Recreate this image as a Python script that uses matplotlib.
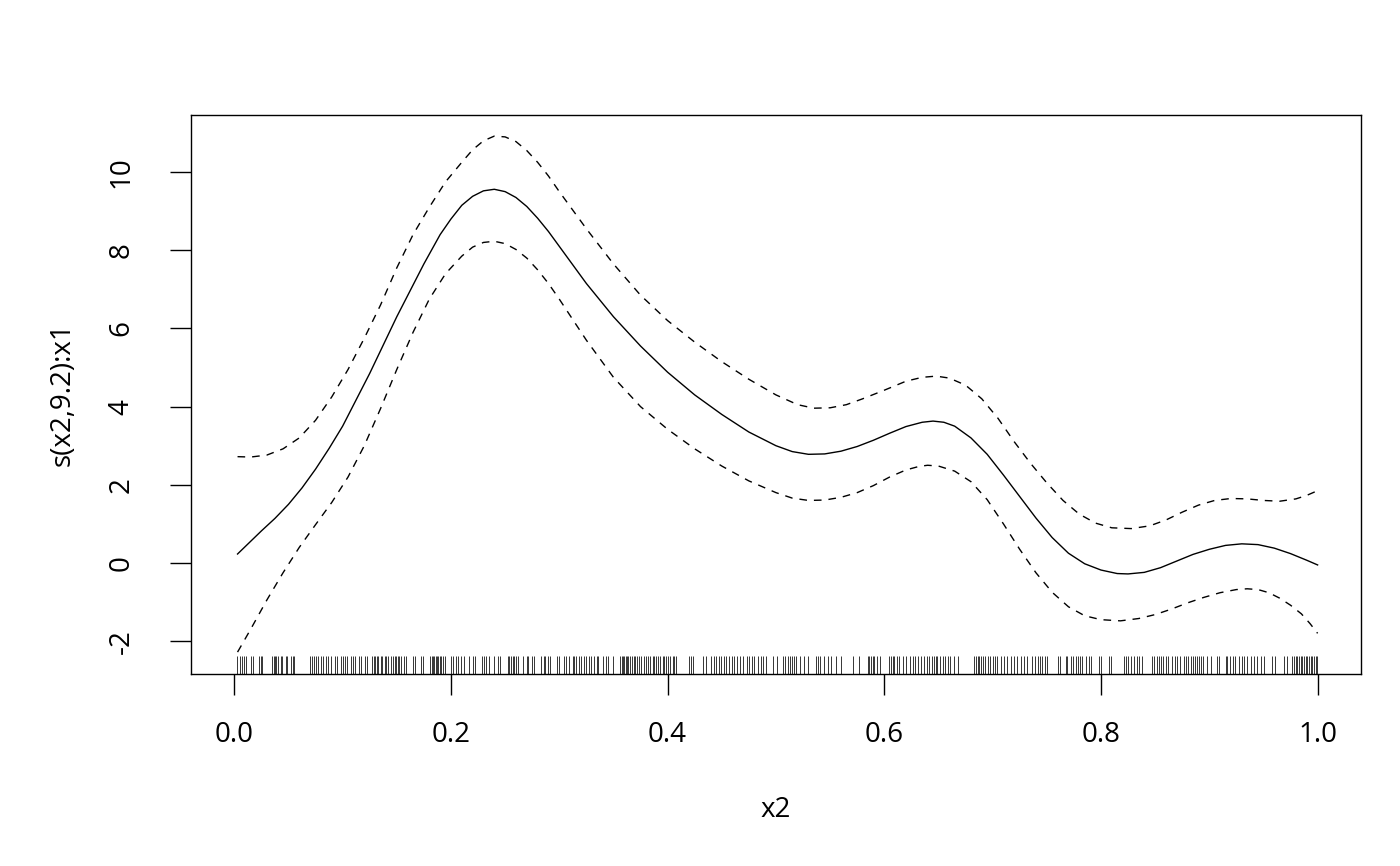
#!/usr/bin/env python

"""
Plot a smooth term s(x2,9.2):x1 with its confidence band and a rug of x2
"""

import matplotlib
matplotlib.use('Agg')
import matplotlib.pyplot as plt

# Fitted smooth
fit_x = [0.003, 0.025, 0.0375, 0.05, 0.0625, 0.075, 0.0875, 0.1, 0.125, 0.15,
         0.175, 0.19, 0.2, 0.21, 0.22, 0.23, 0.24, 0.25, 0.26, 0.27,
         0.28, 0.29, 0.3, 0.325, 0.35, 0.375, 0.4, 0.425, 0.45, 0.475,
         0.5, 0.515, 0.53, 0.545, 0.56, 0.575, 0.59, 0.605, 0.62, 0.635,
         0.645, 0.655, 0.665, 0.68, 0.695, 0.71, 0.725, 0.74, 0.755, 0.77,
         0.785, 0.8, 0.815, 0.825, 0.84, 0.855, 0.87, 0.885, 0.9, 0.915,
         0.93, 0.945, 0.96, 0.975, 0.99, 1.0]
fit_y = [0.23, 0.82, 1.14, 1.5, 1.92, 2.4, 2.93, 3.5, 4.85, 6.3,
         7.65, 8.4, 8.8, 9.15, 9.38, 9.52, 9.56, 9.5, 9.35, 9.12,
         8.82, 8.48, 8.1, 7.15, 6.3, 5.55, 4.88, 4.3, 3.8, 3.35,
         3.0, 2.85, 2.78, 2.79, 2.86, 2.98, 3.14, 3.32, 3.49, 3.6,
         3.63, 3.6, 3.5, 3.2, 2.78, 2.25, 1.7, 1.15, 0.65, 0.25,
         -0.02, -0.18, -0.27, -0.28, -0.24, -0.12, 0.05, 0.22, 0.35, 0.45,
         0.49, 0.47, 0.38, 0.24, 0.07, -0.05]

# Upper band
upper_x = [0.003, 0.015, 0.03, 0.045, 0.06, 0.075, 0.09, 0.105, 0.12, 0.135,
           0.15, 0.165, 0.18, 0.195, 0.21, 0.22, 0.23, 0.24, 0.25, 0.26,
           0.27, 0.28, 0.29, 0.3, 0.325, 0.35, 0.375, 0.4, 0.425, 0.45,
           0.475, 0.5, 0.52, 0.535, 0.55, 0.565, 0.58, 0.6, 0.62, 0.635,
           0.648, 0.66, 0.675, 0.69, 0.705, 0.72, 0.735, 0.75, 0.765, 0.78,
           0.795, 0.81, 0.828, 0.845, 0.86, 0.875, 0.89, 0.905, 0.92, 0.935,
           0.95, 0.965, 0.98, 0.99, 1.0]
upper_y = [2.72, 2.71, 2.76, 2.92, 3.2, 3.65, 4.25, 4.95, 5.75, 6.6,
           7.55, 8.4, 9.1, 9.75, 10.25, 10.57, 10.8, 10.92, 10.9, 10.78,
           10.55, 10.25, 9.9, 9.5, 8.55, 7.65, 6.85, 6.2, 5.65, 5.15,
           4.7, 4.3, 4.05, 3.96, 3.97, 4.05, 4.2, 4.42, 4.65, 4.75,
           4.78, 4.73, 4.55, 4.2, 3.7, 3.1, 2.55, 2.05, 1.6, 1.25,
           1.02, 0.9, 0.88, 0.95, 1.1, 1.3, 1.48, 1.6, 1.65, 1.64,
           1.6, 1.58, 1.64, 1.73, 1.85]

# Lower band
lower_x = [0.003, 0.015, 0.03, 0.045, 0.06, 0.075, 0.09, 0.105, 0.12, 0.135,
           0.15, 0.165, 0.18, 0.195, 0.21, 0.22, 0.23, 0.24, 0.25, 0.26,
           0.27, 0.28, 0.29, 0.3, 0.325, 0.35, 0.375, 0.4, 0.425, 0.45,
           0.475, 0.5, 0.515, 0.53, 0.545, 0.56, 0.575, 0.59, 0.605, 0.62,
           0.632, 0.64, 0.65, 0.665, 0.68, 0.695, 0.71, 0.725, 0.74, 0.755,
           0.77, 0.785, 0.8, 0.818, 0.835, 0.85, 0.865, 0.88, 0.895, 0.91,
           0.925, 0.935, 0.945, 0.955, 0.965, 0.975, 0.985, 0.993, 1.0]
lower_y = [-2.28, -1.7, -0.95, -0.25, 0.4, 0.98, 1.55, 2.2, 3.0, 3.95,
           4.95, 5.9, 6.75, 7.4, 7.85, 8.08, 8.2, 8.23, 8.17, 8.02,
           7.8, 7.5, 7.15, 6.75, 5.7, 4.75, 4.0, 3.42, 2.92, 2.48,
           2.1, 1.8, 1.66, 1.6, 1.61, 1.68, 1.8, 1.98, 2.2, 2.38,
           2.47, 2.5, 2.48, 2.35, 2.08, 1.62, 1.0, 0.35, -0.25, -0.75,
           -1.12, -1.35, -1.45, -1.48, -1.42, -1.32, -1.18, -1.02, -0.88, -0.76,
           -0.68, -0.66, -0.68, -0.76, -0.9, -1.08, -1.3, -1.55, -1.8]

# Observed x2 values (rug)
rug_x = [
    0.0025, 0.0049, 0.0071, 0.0089, 0.0105, 0.0151, 0.0172, 0.0224, 0.0243,
    0.0255, 0.0347, 0.0363, 0.0372, 0.0381, 0.0403, 0.0427, 0.0443, 0.0474,
    0.0489, 0.0526, 0.0541, 0.055, 0.0695, 0.0716, 0.0732, 0.075, 0.0772,
    0.0803, 0.0818, 0.0843, 0.0864, 0.0895, 0.0926, 0.095, 0.0981, 0.1002,
    0.1024, 0.1042, 0.1079, 0.1095, 0.111, 0.1147, 0.1172, 0.1202, 0.1224,
    0.127, 0.1288, 0.1301, 0.1319, 0.1331, 0.135, 0.1362, 0.1387, 0.1402,
    0.1418, 0.1448, 0.1464, 0.1479, 0.1494, 0.151, 0.1525, 0.1541, 0.1565,
    0.1587, 0.1648, 0.1664, 0.1719, 0.174, 0.1808, 0.1823, 0.1836, 0.1848,
    0.186, 0.1873, 0.1885, 0.1897, 0.191, 0.1928, 0.1946, 0.2002, 0.2023,
    0.2048, 0.2063, 0.2094, 0.2116, 0.2171, 0.2202, 0.2223, 0.2285, 0.2303,
    0.2325, 0.2355, 0.2395, 0.2438, 0.2457, 0.2525, 0.254, 0.2555, 0.2571,
    0.2586, 0.2601, 0.2617, 0.2663, 0.2703, 0.2715, 0.2746, 0.2771, 0.2832,
    0.2857, 0.2869, 0.2894, 0.2918, 0.298, 0.2995, 0.3041, 0.3063, 0.3093,
    0.3124, 0.314, 0.3155, 0.3186, 0.3201, 0.3226, 0.3247, 0.3278, 0.3293,
    0.3318, 0.3349, 0.3361, 0.3401, 0.3432, 0.3447, 0.3493, 0.3564, 0.3576,
    0.3588, 0.3601, 0.3613, 0.3625, 0.3638, 0.3656, 0.3669, 0.3687, 0.3699,
    0.3718, 0.3739, 0.3755, 0.3779, 0.3801, 0.3822, 0.3841, 0.3862, 0.3878,
    0.3893, 0.3915, 0.3933, 0.3954, 0.397, 0.3985, 0.4001, 0.4025, 0.4047,
    0.4062, 0.4077, 0.42, 0.4216, 0.4231, 0.4323, 0.4354, 0.44, 0.4425,
    0.4446, 0.4477, 0.4492, 0.4523, 0.4539, 0.4569, 0.4591, 0.4616, 0.464,
    0.4671, 0.4693, 0.4733, 0.4754, 0.4776, 0.48, 0.4831, 0.4862, 0.4877,
    0.4908, 0.4969, 0.5009, 0.5061, 0.5083, 0.5107, 0.5132, 0.5144, 0.5163,
    0.5185, 0.5224, 0.5255, 0.5292, 0.5369, 0.5384, 0.5409, 0.5446, 0.5477,
    0.5507, 0.5554, 0.56, 0.5707, 0.5769, 0.5846, 0.5861, 0.5876, 0.5892,
    0.5907, 0.5932, 0.5962, 0.6046, 0.6061, 0.6076, 0.6092, 0.6116, 0.6138,
    0.6169, 0.6199, 0.6239, 0.6261, 0.6282, 0.6307, 0.6338, 0.6368, 0.6393,
    0.6415, 0.6445, 0.6461, 0.6476, 0.6491, 0.6516, 0.6538, 0.6559, 0.6584,
    0.6608, 0.6645, 0.6676, 0.683, 0.6845, 0.6861, 0.6876, 0.6891, 0.6907,
    0.6928, 0.6953, 0.6977, 0.6999, 0.702, 0.7045, 0.7076, 0.7106, 0.7137,
    0.7168, 0.7199, 0.7229, 0.726, 0.7291, 0.7322, 0.7359, 0.7389, 0.742,
    0.7439, 0.746, 0.7482, 0.75, 0.7605, 0.7623, 0.7675, 0.769, 0.7721,
    0.7746, 0.7768, 0.7789, 0.7808, 0.7829, 0.786, 0.7891, 0.7906, 0.7983,
    0.8004, 0.8075, 0.8096, 0.8213, 0.8229, 0.825, 0.8275, 0.8306, 0.833,
    0.8352, 0.8383, 0.8475, 0.849, 0.8521, 0.8536, 0.8552, 0.8576, 0.8598,
    0.8619, 0.8659, 0.8681, 0.8705, 0.873, 0.8767, 0.8782, 0.8804, 0.8829,
    0.8853, 0.8865, 0.8884, 0.8905, 0.8927, 0.8945, 0.8982, 0.9013, 0.9074,
    0.909, 0.9151, 0.9167, 0.9191, 0.9222, 0.9234, 0.9274, 0.9305, 0.932,
    0.9345, 0.9382, 0.9413, 0.9443, 0.9474, 0.9505, 0.9582, 0.9603, 0.9689,
    0.972, 0.9766, 0.9782, 0.9797, 0.9813, 0.9828, 0.9843, 0.9859, 0.9874,
    0.9889, 0.9905, 0.992, 0.9936, 0.9951, 0.9966, 0.9982, 0.999]

x_ticks = [0.0, 0.2, 0.4, 0.6, 0.8, 1.0]
x_tick_labels = ['0.0', '0.2', '0.4', '0.6', '0.8', '1.0']
y_ticks = [-2, 0, 2, 4, 6, 8, 10]
y_tick_labels = ['-2', '0', '2', '4', '6', '8', '10']


def _plot_smooth(ax):
    """Draw fit, band and rug"""
    ax.plot(fit_x, fit_y, color='black', lw=1.0, solid_joinstyle='round')
    for bx, by in ((upper_x, upper_y), (lower_x, lower_y)):
        ax.plot(bx, by, color='black', lw=1.0, linestyle=(0, (5.5, 5)))
    # rug along the bottom, as in R's rug()
    ax.vlines(rug_x, 0, 0.032, transform=ax.get_xaxis_transform(),
              color='black', lw=0.55)


if __name__ == '__main__':
    plt.rcParams['font.family'] = ['Open Sans', 'DejaVu Sans']
    fig = plt.figure(figsize=(14, 8.66), dpi=100)
    ax = fig.add_axes([0.1364, 0.2217, 0.8357, 0.6455])
    _plot_smooth(ax)
    ax.set_xlim(-0.04, 1.04)
    ax.set_ylim(-2.84, 11.46)
    ax.set_xticks(x_ticks)
    ax.set_xticklabels(x_tick_labels)
    ax.set_yticks(y_ticks)
    ax.set_yticklabels(y_tick_labels, rotation=90, va='center')
    ax.tick_params(axis='both', length=15, width=1.0, labelsize=20,
                   color='black')
    ax.tick_params(axis='x', pad=19)
    ax.tick_params(axis='y', pad=25)
    for spine in ax.spines.values():
        spine.set_linewidth(1.0)
    ax.set_xlabel('x2', fontsize=20, labelpad=34)
    ax.set_ylabel('s(x2,9.2):x1', fontsize=20, labelpad=22)
    fig.savefig('out.png', dpi=100)
